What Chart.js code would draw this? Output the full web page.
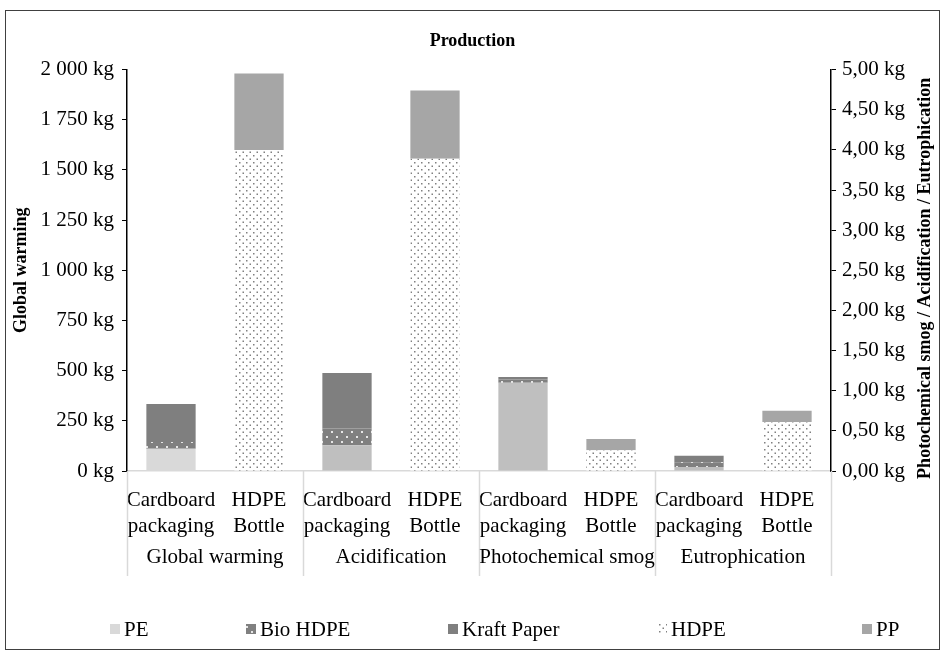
<!DOCTYPE html>
<html>
<head>
<meta charset="utf-8">
<script src="https://cdn.jsdelivr.net/npm/chart.js@4.4.1/dist/chart.umd.min.js"></script>
<style>
html,body{margin:0;padding:0;background:#fff;}
</style>
</head>
<body>
<canvas id="mycanvas" width="945" height="660"></canvas>
<script>
// categories and groups
var categories=[["Cardboard","packaging"],["HDPE","Bottle"],["Cardboard","packaging"],["HDPE","Bottle"],
	["Cardboard","packaging"],["HDPE","Bottle"],["Cardboard","packaging"],["HDPE","Bottle"]];
var groups=["Global warming","Acidification","Photochemical smog","Eutrophication"];
var seriesNames=["PE","Bio HDPE","Kraft Paper","HDPE","PP"];

// Global warming (kg, left axis): Cardboard, HDPE Bottle
var gwPE=[111,null];
var gwBio=[34,null];
var gwKraft=[189,null];
var gwHDPE=[null,1600];
var gwPP=[null,380];

// Acidification, Photochemical smog, Eutrophication (kg, right axis)
var otPE=[0.32,null,1.10,null,0.05,null];
var otBio=[0.21,null,0.04,null,0.06,null];
var otKraft=[0.69,null,0.03,null,0.08,null];
var otHDPE=[null,3.89,null,0.26,null,0.61];
var otPP=[null,0.85,null,0.14,null,0.14];

var leftTicks={min:0,max:2000,step:250};
var rightTicks={min:0,max:5,step:0.5};

var serif='"Liberation Serif","Times New Roman",serif';
var fs=21;
Chart.defaults.font.family=serif;
Chart.defaults.color='#000';

function makePattern(bg,dot,w,h,pts){
	var c=document.createElement('canvas');
	c.width=w;c.height=h;
	var x=c.getContext('2d');
	x.fillStyle=bg;x.fillRect(0,0,w,h);
	x.fillStyle=dot;
	pts.forEach(function(p){x.fillRect(p[0],p[1],p[2],p[2]);});
	return x.createPattern(c,'repeat');
}
var hdpeFill=makePattern('#ffffff','#808080',7,7,[[1,1,1.5],[4.5,4.5,1.5]]);
var bioFill=makePattern('#808080','#e6e6e6',10,10,[[1,1,2],[6,6,2]]);
var peFill=['#d9d9d9','#d9d9d9','#bfbfbf','#bfbfbf','#bfbfbf','#bfbfbf','#bfbfbf','#bfbfbf'];
var fills=[peFill,bioFill,'#7f7f7f',hdpeFill,'#a6a6a6'];
var legendFills=['#d9d9d9',bioFill,'#7f7f7f',hdpeFill,'#a6a6a6'];

var leftData=[gwPE,gwBio,gwKraft,gwHDPE,gwPP];
var rightData=[otPE,otBio,otKraft,otHDPE,otPP];
var datasets=[];
for(var i=0;i<seriesNames.length;i++){
	datasets.push({label:seriesNames[i],data:leftData[i].concat([null,null,null,null,null,null]),
		yAxisID:'y',stack:'s',backgroundColor:fills[i],barPercentage:0.56,categoryPercentage:1});
	datasets.push({label:seriesNames[i],data:[null,null].concat(rightData[i]),
		yAxisID:'y1',stack:'s',backgroundColor:fills[i],barPercentage:0.56,categoryPercentage:1});
}

function fmtLeft(v){
	var s=v>=1000?Math.floor(v/1000)+' '+String(v%1000).padStart(3,'0'):String(v);
	return s+' kg';
}
function fmtRight(v){return v.toFixed(2).replace('.',',')+' kg';}

var decor={
	id:'decor',
	afterDraw:function(chart){
		var ctx=chart.ctx,xs=chart.scales.x,area=chart.chartArea;
		ctx.save();
		// outer border
		ctx.strokeStyle='#404040';ctx.lineWidth=1;
		ctx.strokeRect(5.5,10.5,934,639);
		// group separators and labels
		var b=[xs.left];
		for(var g=1;g<groups.length;g++){
			b.push((xs.getPixelForValue(2*g-1)+xs.getPixelForValue(2*g))/2);
		}
		b.push(xs.right);
		ctx.strokeStyle='#d9d9d9';ctx.lineWidth=1.5;
		b.forEach(function(x){
			ctx.beginPath();ctx.moveTo(Math.round(x)+0.5,area.bottom);ctx.lineTo(Math.round(x)+0.5,576);ctx.stroke();
		});
		ctx.fillStyle='#000';ctx.font=fs+'px '+serif;ctx.textAlign='center';ctx.textBaseline='middle';
		for(var k=0;k<groups.length;k++){
			ctx.fillText(groups[k],(b[k]+b[k+1])/2,557);
		}
		// right axis title
		ctx.save();
		ctx.translate(925,(area.top+area.bottom)/2+8);
		ctx.rotate(-Math.PI/2);
		ctx.font='bold 18px '+serif;
		ctx.fillText('Photochemical smog / Acidification / Eutrophication',0,0);
		ctx.restore();
		// legend
		var lx=[110,246,448,657,862];
		ctx.textAlign='left';ctx.font=fs+'px '+serif;
		for(var j=0;j<seriesNames.length;j++){
			ctx.fillStyle=legendFills[j];
			ctx.fillRect(lx[j],624,10,10);
			ctx.fillStyle='#000';
			ctx.fillText(seriesNames[j],lx[j]+14,630);
		}
		ctx.restore();
	}
};

var ctx=document.getElementById('mycanvas');
var barGraph=new Chart(ctx,{
	type:'bar',
	data:{labels:categories,datasets:datasets},
	plugins:[decor],
	options:{
		responsive:false,
		animation:false,
		layout:{padding:{left:5,right:5,top:10,bottom:10}},
		plugins:{
			legend:{display:false},
			tooltip:{enabled:false},
			title:{display:true,text:'Production',color:'#000',font:{size:18,weight:'bold'},padding:{top:21,bottom:17}}
		},
		scales:{
			x:{
				stacked:true,
				grid:{display:false},
				border:{color:'#d9d9d9',width:1.5},
				ticks:{color:'#000',font:{size:fs,lineHeight:1.25},padding:8,autoSkip:false,maxRotation:0},
				afterFit:function(s){s.height=179;}
			},
			y:{
				position:'left',stacked:true,
				min:leftTicks.min,max:leftTicks.max,
				ticks:{stepSize:leftTicks.step,color:'#000',font:{size:fs},padding:8,callback:function(v){return fmtLeft(v);}},
				grid:{drawOnChartArea:false,drawTicks:true,tickLength:5,color:'#000'},
				border:{color:'#000',width:1.5},
				title:{display:true,text:'Global warming',color:'#000',font:{size:18,weight:'bold'},padding:{top:6,bottom:0}},
				afterFit:function(s){s.width=122;}
			},
			y1:{
				position:'right',stacked:true,
				min:rightTicks.min,max:rightTicks.max,
				ticks:{stepSize:rightTicks.step,color:'#000',font:{size:fs},padding:6,callback:function(v){return fmtRight(v);}},
				grid:{drawOnChartArea:false,drawTicks:true,tickLength:5,color:'#000'},
				border:{color:'#000',width:1.5},
				afterFit:function(s){s.width=109;}
			}
		}
	}
});
</script>
</body>
</html>
